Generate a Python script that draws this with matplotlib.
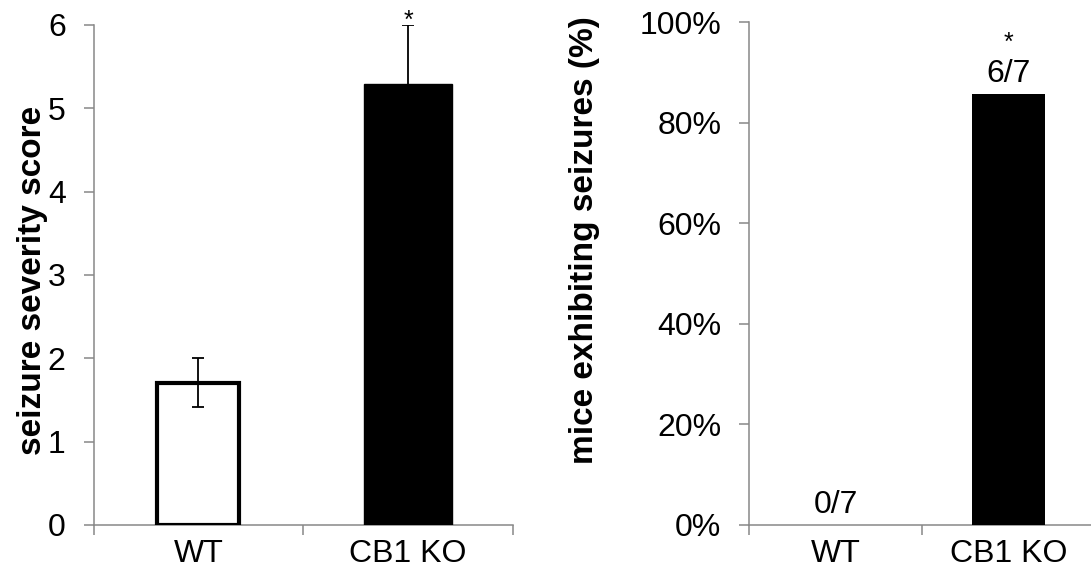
import numpy as np
import matplotlib.pyplot as plt

plt.rcParams['font.family'] = ['Liberation Sans', 'DejaVu Sans']

groups = ["WT", "CB1 KO"]
severity = [1.71, 5.29]
severity_err = [0.29, 0.71]
pct_seizing = [0.0, 6 / 7]
counts = ["0/7", "6/7"]

grey = "#888888"
fs = 23

fig = plt.figure(figsize=(10.91, 5.84), dpi=100)
ax1 = fig.add_axes([93.5 / 1091, 59 / 584, 419.5 / 1091, 500 / 584])
ax2 = fig.add_axes([749 / 1091, 59 / 584, 346 / 1091, 503 / 584])

x = np.arange(len(groups)) + 0.5

# left panel: severity score
ax1.bar(x[0], severity[0], width=0.39, color="white", edgecolor="black", linewidth=3, zorder=2)
ax1.bar(x[1], severity[1], width=0.42, color="black", edgecolor="black", linewidth=1, zorder=2)
ax1.errorbar(x, severity, yerr=severity_err, fmt="none", ecolor="black",
             elinewidth=1.3, capsize=4.5, capthick=1.3, zorder=3)
ax1.annotate("*", (x[1], severity[1] + severity_err[1]), xytext=(0, -6),
             textcoords="offset points", ha="center", va="bottom", fontsize=18,
             annotation_clip=False)
ax1.set_ylim(0, 6)
ax1.set_yticks(range(7))
ax1.set_ylabel("seizure severity score", fontsize=24, fontweight="bold")
ax1.yaxis.set_label_coords(-0.108, 0.49)

# right panel: fraction of mice with seizures
ax2.bar(x, pct_seizing, width=0.42, color="black", linewidth=0, zorder=2)
for xi, yi, lab in zip(x, pct_seizing, counts):
    ax2.annotate(lab, (xi, yi), xytext=(0, 8.5), textcoords="offset points",
                 ha="center", va="baseline", fontsize=fs)
ax2.text(x[1], 0.944, "*", ha="center", va="baseline", fontsize=18)
ax2.set_ylim(0, 1)
ax2.set_yticks(np.linspace(0, 1, 6))
ax2.set_yticklabels(["%d%%" % v for v in range(0, 101, 20)])
ax2.set_ylabel("mice exhibiting seizures (%)", fontsize=24, fontweight="bold")
ax2.yaxis.set_label_coords(-0.43, 0.567)

for ax in (ax1, ax2):
    ax.set_xlim(0, 2)
    for s in ("top", "right"):
        ax.spines[s].set_visible(False)
    for s in ("left", "bottom"):
        ax.spines[s].set_color(grey)
        ax.spines[s].set_linewidth(1.1)
        ax.spines[s].set_zorder(1)
    ax.set_xticks([0, 1, 2])
    ax.set_xticklabels([])
    ax.set_xticks(x, minor=True)
    ax.set_xticklabels(groups, minor=True)
    ax.tick_params(axis="x", which="major", direction="out", length=7, width=1.1, color=grey)
    ax.tick_params(axis="x", which="minor", length=0, pad=10, labelsize=fs)
    ax.tick_params(axis="y", direction="out", length=7, width=1.1, color=grey, pad=13, labelsize=fs)

fig.savefig("out.png", dpi=100)
